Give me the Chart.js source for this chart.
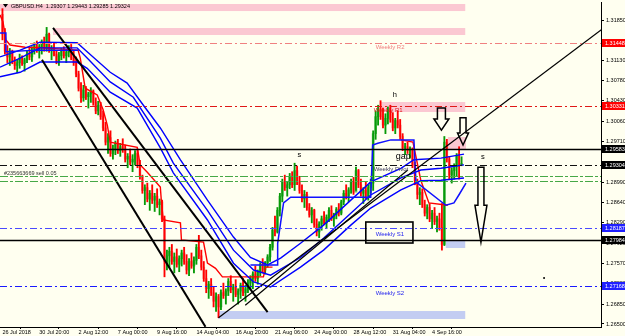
<!DOCTYPE html>
<html>
<head>
<meta charset="utf-8">
<script src="https://cdn.jsdelivr.net/npm/chart.js@4.4.1/dist/chart.umd.min.js"></script>
<style>
  html, body { margin: 0; padding: 0; background: #fffff0; }
  #wrap { width: 625px; height: 336px; }
</style>
</head>
<body>
<div id="wrap"><canvas id="chart" width="625" height="336"></canvas></div>
<script>
// GBPUSD H4 bars (bar 0 = 26 Jul 2018)
const firstOpen = 1.3195;
const highs = [
  1.3205, 1.3170, 1.3140, 1.3135, 1.3132, 1.3120, 1.3115, 1.3125, 1.3122, 1.3118,
  1.3130, 1.3135, 1.3138, 1.3145, 1.3148, 1.3142, 1.3150, 1.3155, 1.3172, 1.3162,
  1.3140, 1.3145, 1.3130, 1.3128, 1.3135, 1.3138, 1.3132, 1.3140, 1.3142, 1.3130,
  1.3120, 1.3095, 1.3075, 1.3070, 1.3068, 1.3058, 1.3066, 1.3062, 1.3048, 1.3042,
  1.3040, 1.3025, 1.3005, 1.2985, 1.2990, 1.2965, 1.2972, 1.2975, 1.2968, 1.2976,
  1.2965, 1.2950, 1.2958, 1.2948, 1.2955, 1.2958, 1.2938, 1.2912, 1.2895, 1.2898,
  1.2885, 1.2895, 1.2880, 1.2888, 1.2870, 1.2868, 1.2840, 1.2780, 1.2785, 1.2790,
  1.2775, 1.2782, 1.2770, 1.2780, 1.2785, 1.2772, 1.2765, 1.2775, 1.2768, 1.2790,
  1.2806, 1.2780, 1.2760, 1.2745, 1.2725, 1.2730, 1.2715, 1.2705, 1.2702, 1.2710,
  1.2722, 1.2712, 1.2730, 1.2735, 1.2720, 1.2728, 1.2712, 1.2722, 1.2730, 1.2718,
  1.2728, 1.2735, 1.2742, 1.2752, 1.2745, 1.2758, 1.2765, 1.2760, 1.2772, 1.2790,
  1.2820, 1.2840, 1.2855, 1.2880, 1.2905, 1.2912, 1.2900, 1.2915, 1.2918, 1.2933,
  1.2928, 1.2910, 1.2895, 1.2885, 1.2882, 1.2862, 1.2855, 1.2852, 1.2835, 1.2830,
  1.2840, 1.2848, 1.2842, 1.2855, 1.2858, 1.2845, 1.2855, 1.2862, 1.2868, 1.2885,
  1.2895, 1.2890, 1.2905, 1.2908, 1.2926, 1.2922, 1.2905, 1.2890, 1.2900, 1.2895,
  1.2905, 1.2990, 1.3025, 1.3035, 1.3043, 1.3030, 1.3020, 1.3032, 1.3035, 1.3022,
  1.3012, 1.3025, 1.3010, 1.2985, 1.2968, 1.2970, 1.2962, 1.2960, 1.2935, 1.2905,
  1.2890, 1.2888, 1.2868, 1.2860, 1.2862, 1.2850, 1.2855, 1.2840, 1.2845, 1.2862,
  1.2980, 1.2975, 1.2945, 1.2925, 1.2932, 1.2950, 1.2962, 1.29443
];
const lows = [
  1.3150, 1.3125, 1.3110, 1.3105, 1.3108, 1.3098, 1.3092, 1.3100, 1.3105, 1.3095,
  1.3110, 1.3115, 1.3112, 1.3125, 1.3128, 1.3118, 1.3125, 1.3130, 1.3130, 1.3128,
  1.3115, 1.3122, 1.3108, 1.3105, 1.3115, 1.3118, 1.3110, 1.3120, 1.3115, 1.3105,
  1.3085, 1.3060, 1.3040, 1.3042, 1.3045, 1.3030, 1.3040, 1.3035, 1.3020, 1.3018,
  1.3010, 1.2990, 1.2965, 1.2950, 1.2945, 1.2940, 1.2948, 1.2950, 1.2945, 1.2952,
  1.2935, 1.2925, 1.2930, 1.2918, 1.2930, 1.2925, 1.2905, 1.2880, 1.2860, 1.2865,
  1.2850, 1.2862, 1.2848, 1.2855, 1.2842, 1.2830, 1.2733, 1.2745, 1.2750, 1.2755,
  1.2740, 1.2750, 1.2742, 1.2752, 1.2755, 1.2738, 1.2735, 1.2748, 1.2740, 1.2755,
  1.2765, 1.2745, 1.2725, 1.2705, 1.2695, 1.2700, 1.2680, 1.2672, 1.2661, 1.2675,
  1.2695, 1.2685, 1.2700, 1.2705, 1.2690, 1.2698, 1.2685, 1.2695, 1.2700, 1.2690,
  1.2705, 1.2710, 1.2712, 1.2725, 1.2720, 1.2735, 1.2740, 1.2738, 1.2750, 1.2760,
  1.2780, 1.2805, 1.2810, 1.2840, 1.2865, 1.2885, 1.2875, 1.2888, 1.2890, 1.2885,
  1.2895, 1.2880, 1.2865, 1.2855, 1.2850, 1.2838, 1.2828, 1.2820, 1.2805, 1.2802,
  1.2815, 1.2825, 1.2818, 1.2830, 1.2832, 1.2822, 1.2835, 1.2840, 1.2842, 1.2860,
  1.2870, 1.2865, 1.2880, 1.2878, 1.2885, 1.2890, 1.2875, 1.2862, 1.2870, 1.2868,
  1.2880, 1.2885, 1.2975, 1.3000, 1.3010, 1.2995, 1.2985, 1.3002, 1.3005, 1.2990,
  1.2985, 1.2995, 1.2975, 1.2955, 1.2948, 1.2950, 1.2942, 1.2925, 1.2895, 1.2870,
  1.2860, 1.2855, 1.2840, 1.2835, 1.2830, 1.2818, 1.2825, 1.2812, 1.2815, 1.2780,
  1.2788, 1.2935, 1.2905, 1.2898, 1.2905, 1.2910, 1.2905, 1.29285
];
const closes = [
  1.3160, 1.3130, 1.3120, 1.3128, 1.3112, 1.3105, 1.3110, 1.3118, 1.3108, 1.3115,
  1.3125, 1.3120, 1.3132, 1.3140, 1.3132, 1.3138, 1.3145, 1.3135, 1.3160, 1.3132,
  1.3135, 1.3125, 1.3112, 1.3122, 1.3130, 1.3122, 1.3128, 1.3135, 1.3118, 1.3110,
  1.3090, 1.3065, 1.3048, 1.3062, 1.3050, 1.3055, 1.3060, 1.3040, 1.3025, 1.3035,
  1.3015, 1.2995, 1.2970, 1.2978, 1.2950, 1.2958, 1.2968, 1.2955, 1.2962, 1.2958,
  1.2940, 1.2945, 1.2935, 1.2940, 1.2950, 1.2930, 1.2910, 1.2885, 1.2890, 1.2870,
  1.2880, 1.2868, 1.2875, 1.2860, 1.2865, 1.2835, 1.2760, 1.2770, 1.2778, 1.2760,
  1.2768, 1.2755, 1.2765, 1.2775, 1.2760, 1.2745, 1.2760, 1.2752, 1.2762, 1.2785,
  1.2770, 1.2750, 1.2730, 1.2712, 1.2720, 1.2705, 1.2690, 1.2698, 1.2680, 1.2705,
  1.2700, 1.2708, 1.2725, 1.2710, 1.2715, 1.2702, 1.2708, 1.2718, 1.2705, 1.2712,
  1.2722, 1.2730, 1.2738, 1.2730, 1.2742, 1.2755, 1.2745, 1.2758, 1.2768, 1.2785,
  1.2815, 1.2812, 1.2850, 1.2875, 1.2900, 1.2890, 1.2895, 1.2910, 1.2895, 1.2920,
  1.2900, 1.2885, 1.2870, 1.2878, 1.2855, 1.2842, 1.2850, 1.2825, 1.2812, 1.2826,
  1.2835, 1.2828, 1.2838, 1.2850, 1.2835, 1.2842, 1.2852, 1.2845, 1.2865, 1.2880,
  1.2875, 1.2886, 1.2900, 1.2882, 1.2920, 1.2895, 1.2880, 1.2885, 1.2875, 1.2890,
  1.2898, 1.2985, 1.3015, 1.3028, 1.3015, 1.3000, 1.3012, 1.3025, 1.3010, 1.2995,
  1.3008, 1.3000, 1.2980, 1.2960, 1.2962, 1.2955, 1.2958, 1.2930, 1.2900, 1.2878,
  1.2882, 1.2860, 1.2845, 1.2855, 1.2835, 1.2845, 1.2830, 1.2835, 1.2820, 1.2790,
  1.2970, 1.2940, 1.2912, 1.2920, 1.2928, 1.2945, 1.29307, 1.29324
];

// axis ticks
const xTickBars = [0, 15, 31, 47, 63, 79, 95, 111, 127, 143, 159, 175];
const xTickLabels = ['26 Jul 2018', '30 Jul 20:00', '2 Aug 12:00', '7 Aug 00:00', '9 Aug 16:00', '14 Aug 04:00',
  '16 Aug 20:00', '21 Aug 06:00', '24 Aug 00:00', '28 Aug 12:00', '31 Aug 04:00', '4 Sep 16:00'];
const yTicks = [1.3185, 1.3113, 1.3078, 1.3043, 1.3006, 1.2971, 1.2899, 1.2864, 1.2829, 1.2792, 1.2757, 1.2722, 1.2685, 1.2650];

// indicator lines as [bar, price]
const redLineA = [[-1, 1.3194], [0.2, 1.3182], [1.4, 1.3150], [3.1, 1.3141], [9.2, 1.3137], [16.6, 1.3136], [30.8, 1.3132],
  [31.7, 1.3118], [33.7, 1.3065], [38.6, 1.3053], [41, 1.3027], [42.7, 1.3000], [43.9, 1.2970], [54.9, 1.2961],
  [56.1, 1.2930], [59, 1.2917], [64.3, 1.2891], [64.7, 1.2868], [65.5, 1.2833], [72.5, 1.2828], [72.9, 1.2798],
  [81.9, 1.2794], [83.5, 1.2757], [86.8, 1.2748], [89.6, 1.2733], [106.3, 1.2733], [107.2, 1.2750], [110, 1.2750]];
const redLineB = [[162.3, 1.2974], [167.2, 1.2970], [170.4, 1.2903], [173.7, 1.2863], [181.4, 1.2859]];
const blueUpper = [[-1, 1.3120], [7.2, 1.3132], [15.3, 1.3146], [30.4, 1.3145], [34.5, 1.3129], [43.9, 1.3093], [50.8, 1.3074],
  [57.4, 1.3035], [64.3, 1.2995], [72.5, 1.2939], [83.5, 1.2868], [94.1, 1.2803], [101, 1.2767], [108, 1.2754],
  [113.3, 1.2766], [121.4, 1.2792], [130.8, 1.2824], [141.9, 1.2868], [150, 1.2900], [162.3, 1.2924], [167.6, 1.2939],
  [178.6, 1.2942], [188, 1.2949]];
const blueMiddle = [[-1, 1.3102], [7.2, 1.3118], [15.3, 1.3136], [30.4, 1.3136], [34.5, 1.3118], [43.9, 1.3076], [53.3, 1.3049],
  [64.3, 1.2977], [69.6, 1.2933], [83.5, 1.2850], [94.1, 1.2780], [102.3, 1.2745], [109.2, 1.2736], [121.4, 1.2767],
  [130.8, 1.2801], [141.9, 1.2845], [150, 1.2877], [162.3, 1.2907], [170.4, 1.2921], [178.6, 1.2924], [188, 1.2930]];
const blueLower = [[-1, 1.3085], [7.2, 1.3093], [15.3, 1.3111], [30.4, 1.3111], [34.5, 1.3100], [43.9, 1.3058], [54.9, 1.3030],
  [64.3, 1.2960], [69.6, 1.2916], [83.5, 1.2833], [94.1, 1.2757], [102.3, 1.2724], [109.2, 1.2715], [121.4, 1.2750],
  [130.8, 1.2780], [141.9, 1.2824], [150, 1.2854], [162.3, 1.2886], [170.4, 1.2902], [178.6, 1.2903], [188, 1.2907]];
const blueStepA = [[-1, 1.3162], [1.4, 1.3162], [1.4, 1.3129], [14.1, 1.3132], [30.8, 1.3132]];
const blueStepB = [[101, 1.2754], [112.1, 1.2754], [112.1, 1.2792], [113.3, 1.2828], [114.5, 1.2863], [117.4, 1.2873],
  [150, 1.2873], [150.8, 1.2965], [152.9, 1.2968], [158.2, 1.2974], [167.6, 1.2974], [168.4, 1.2900], [180.6, 1.2859],
  [183.9, 1.2863], [185.9, 1.2877], [188.8, 1.2898]];

// hand drawn trend lines
const channelTop = [[20.6, 1.3171], [108, 1.2671]];
const channelBottom = [[16.1, 1.3115], [82.7, 1.2645]];
const riseLine = [[88, 1.2661], [244.3, 1.3169]];
const riseLine2 = [[98.9, 1.2683], [165.1, 1.2921]];

// horizontal levels
const levelPrices = [1.31448, 1.30331, 1.29583, 1.29304, 1.29104, 1.29016, 1.28187, 1.27984, 1.27168];
const priceTags = [1.31448, 1.30331, 1.29583, 1.29304, 1.28187, 1.27984, 1.27168];

// rectangles: start bar, end bar, top price, bottom price
const zoneStart = [-1, 20.6, 154.1, 181.4, 180.6, 88];
const zoneEnd = [188.5, 188.5, 188.5, 188.8, 188.5, 188.5];
const zoneTop = [1.32132, 1.31709, 1.30407, 1.29791, 1.27960, 1.26728];
const zoneBottom = [1.32008, 1.31586, 1.30231, 1.29580, 1.27837, 1.26588];

// text objects
const noteText = ['Weekly R2', 'Weekly R1', 'Weekly Pivot', 'Weekly S1', 'Weekly S2', 'h', 's', 'gap', 's', '#235663669 sell 0.05'];
const noteBar = [152, 151.2, 151.2, 152, 152, 159, 120.2, 160.2, 194.9, 0.6];
const notePrice = [1.31375, 1.30266, 1.29228, 1.28084, 1.27045, 1.30530, 1.29474, 1.29440, 1.29440, 1.29157];

// arrows: bar, top, neck, tip prices
const arrowBar = [178.8, 187.6, 194.9];
const arrowTop = [1.3030, 1.3013, 1.2926];
const arrowNeck = [1.3011, 1.2986, 1.2859];
const arrowTip = [1.2991, 1.2965, 1.2794];

const s1Box = [[148, 1.28295], [167.2, 1.27925]];
const dotMark = [220.6, 1.27309];

const FONT = '"Liberation Sans", Arial, sans-serif';
const opens = closes.map((c, i) => i === 0 ? firstOpen : closes[i - 1]);
const isUp = closes.map((c, i) => c >= opens[i]);

const toXY = pts => pts.map(p => ({ x: p[0], y: p[1] }));
const lineSet = (pts, color, width) => ({
  type: 'line', data: toXY(pts), borderColor: color, borderWidth: width,
  pointRadius: 0, tension: 0, fill: false
});

const zoneColors = ['#fbc8d2', '#fbc8d2', '#fbc8d2', '#fbc8d2', '#c3cdf2', '#c3cdf2'];
const levelStyles = [
  { color: '#f08080', dash: [7, 3, 2, 3], width: 1 },
  { color: '#e01818', dash: [7, 3, 2, 3], width: 1 },
  { color: '#000000', dash: [], width: 1.3 },
  { color: '#111111', dash: [7, 3, 2, 3], width: 1 },
  { color: '#46a846', dash: [8, 2, 3, 2], width: 1.2 },
  { color: '#46a846', dash: [8, 2, 3, 2], width: 1.2 },
  { color: '#4a4aff', dash: [7, 3, 2, 3], width: 1 },
  { color: '#000000', dash: [], width: 1.3 },
  { color: '#1a1aff', dash: [7, 3, 2, 3], width: 1 }
];
const tagColors = ['#ff0000', '#ff0000', '#000000', '#000000', '#1f1fff', '#000000', '#1f1fff'];
const noteStyles = [
  { color: '#f08080', size: 6 }, { color: '#e01818', size: 6 }, { color: '#3a3a5a', size: 6 },
  { color: '#2222ee', size: 6 }, { color: '#2222ee', size: 6 }, { color: '#000', size: 7.5 },
  { color: '#000', size: 7.5 }, { color: '#000', size: 9 }, { color: '#000', size: 7.5 },
  { color: '#333', size: 5.5 }
];
const arrowSizes = [[4, 7.5], [3, 5.5], [3, 6]];

// MT4 style objects drawn through the chart scales
const mt4Objects = {
  id: 'mt4Objects',
  beforeDatasetsDraw(chart) {
    const { ctx, chartArea: a, scales: { x, y } } = chart;
    ctx.save();
    ctx.beginPath(); ctx.rect(a.left, a.top, a.width, a.height); ctx.clip();
    zoneStart.forEach((s, i) => {
      const x0 = x.getPixelForValue(s), x1 = x.getPixelForValue(zoneEnd[i]);
      const y0 = y.getPixelForValue(zoneTop[i]), y1 = y.getPixelForValue(zoneBottom[i]);
      ctx.fillStyle = zoneColors[i];
      ctx.fillRect(x0, y0, x1 - x0, y1 - y0);
    });
    ctx.restore();
  },
  afterDatasetsDraw(chart) {
    const { ctx, chartArea: a, scales: { x, y } } = chart;
    ctx.save();
    ctx.beginPath(); ctx.rect(a.left, a.top, a.width, a.height); ctx.clip();
    levelPrices.forEach((p, i) => {
      const st = levelStyles[i], py = Math.round(y.getPixelForValue(p)) + 0.5;
      ctx.strokeStyle = st.color; ctx.lineWidth = st.width; ctx.setLineDash(st.dash);
      ctx.beginPath(); ctx.moveTo(a.left, py); ctx.lineTo(a.right, py); ctx.stroke();
    });
    ctx.setLineDash([]);

    // S1 frame
    const bx0 = x.getPixelForValue(s1Box[0][0]), by0 = y.getPixelForValue(s1Box[0][1]);
    const bx1 = x.getPixelForValue(s1Box[1][0]), by1 = y.getPixelForValue(s1Box[1][1]);
    ctx.strokeStyle = '#000'; ctx.lineWidth = 1.6;
    ctx.strokeRect(bx0, by0, bx1 - bx0, by1 - by0);

    // hollow arrows
    arrowBar.forEach((b, i) => {
      const cx = x.getPixelForValue(b), t = y.getPixelForValue(arrowTop[i]);
      const n = y.getPixelForValue(arrowNeck[i]), tip = y.getPixelForValue(arrowTip[i]);
      const [hs, hh] = arrowSizes[i];
      ctx.beginPath();
      ctx.moveTo(cx - hs, t); ctx.lineTo(cx + hs, t); ctx.lineTo(cx + hs, n); ctx.lineTo(cx + hh, n);
      ctx.lineTo(cx, tip); ctx.lineTo(cx - hh, n); ctx.lineTo(cx - hs, n); ctx.closePath();
      ctx.strokeStyle = '#000'; ctx.lineWidth = 1.5; ctx.stroke();
    });

    // labels
    ctx.textBaseline = 'middle'; ctx.textAlign = 'left';
    noteText.forEach((t, i) => {
      ctx.font = noteStyles[i].size + 'px ' + FONT;
      ctx.fillStyle = noteStyles[i].color;
      ctx.fillText(t, x.getPixelForValue(noteBar[i]), y.getPixelForValue(notePrice[i]));
    });
    ctx.fillStyle = '#000';
    ctx.beginPath();
    ctx.arc(x.getPixelForValue(dotMark[0]), y.getPixelForValue(dotMark[1]), 1, 0, Math.PI * 2);
    ctx.fill();
    ctx.restore();
  },
  afterDraw(chart) {
    const { ctx, chartArea: a, scales: { y } } = chart;
    ctx.save();
    // price tags on the right scale
    ctx.font = '5.5px ' + FONT; ctx.textBaseline = 'middle'; ctx.textAlign = 'left';
    priceTags.forEach((p, i) => {
      const py = Math.round(y.getPixelForValue(p));
      ctx.fillStyle = tagColors[i];
      ctx.fillRect(a.right + 1, py - 4, 24, 8);
      ctx.fillStyle = '#fff';
      ctx.fillText(p.toFixed(5), a.right + 4, py + 0.5);
    });
    // symbol header
    ctx.fillStyle = '#000';
    ctx.beginPath(); ctx.moveTo(3, 4); ctx.lineTo(8, 4); ctx.lineTo(5.5, 7.5); ctx.closePath(); ctx.fill();
    ctx.font = '5.5px ' + FONT;
    ctx.fillText('GBPUSD.H4  ' + [opens[187], highs[187], lows[187], closes[187]].map(v => v.toFixed(5)).join(' '), 11, 6);
    ctx.restore();
  }
};

const noPad = s => { s.paddingLeft = 0; s.paddingRight = 0; s.paddingTop = 0; s.paddingBottom = 0; };

new Chart(document.getElementById('chart'), {
  type: 'bar',
  data: {
    datasets: [
      lineSet(channelTop, '#000', 2),
      lineSet(channelBottom, '#000', 2),
      lineSet(riseLine, '#000', 1.2),
      lineSet(riseLine2, '#000', 1.2),
      lineSet(blueStepA, '#1010ff', 1.5),
      lineSet(blueStepB, '#1010ff', 1.5),
      lineSet(blueUpper, '#0000ff', 1.4),
      lineSet(blueMiddle, '#0000ff', 1.4),
      lineSet(blueLower, '#0000ff', 1.4),
      lineSet(redLineA, '#ff0000', 1.4),
      lineSet(redLineB, '#ff0000', 1.4),
      {
        data: highs.map((h, i) => ({ x: i, y: [lows[i], h] })),
        backgroundColor: isUp.map(u => u ? '#079a07' : '#ff0000'),
        barThickness: 1.2, grouped: false, borderWidth: 0
      },
      {
        data: closes.map((c, i) => ({ x: i, y: [Math.min(opens[i], c), Math.max(opens[i], c)] })),
        backgroundColor: isUp.map(u => u ? '#62c262' : '#f59a9a'),
        barThickness: 2, grouped: false, borderWidth: 0
      }
    ]
  },
  options: {
    responsive: false,
    animation: false,
    layout: { padding: { top: 2, left: 0, right: 0, bottom: 0 } },
    plugins: { legend: { display: false }, tooltip: { enabled: false } },
    scales: {
      x: {
        type: 'linear', min: -1, max: 243.8, offset: false,
        grid: { drawOnChartArea: false, drawTicks: true, tickLength: 2, color: '#000' },
        border: { display: true, color: '#000', width: 1 },
        ticks: {
          font: { size: 5.5, family: FONT }, color: '#000', align: 'start',
          padding: 0, maxRotation: 0, autoSkip: false,
          callback: (v, i) => xTickLabels[i]
        },
        afterBuildTicks: s => { s.ticks = xTickBars.map(v => ({ value: v })); },
        afterFit: s => { s.height = 9; noPad(s); }
      },
      y: {
        position: 'right', min: 1.26447, max: 1.32167,
        grid: { drawOnChartArea: false, drawTicks: true, tickLength: 3, color: '#000' },
        border: { display: true, color: '#000', width: 1 },
        ticks: {
          font: { size: 5.5, family: FONT }, color: '#000', padding: 2, autoSkip: false,
          callback: v => v.toFixed(5)
        },
        afterBuildTicks: s => { s.ticks = yTicks.map(v => ({ value: v })); },
        afterFit: s => { s.width = 24; noPad(s); }
      }
    }
  },
  plugins: [mt4Objects]
});
</script>
</body>
</html>
